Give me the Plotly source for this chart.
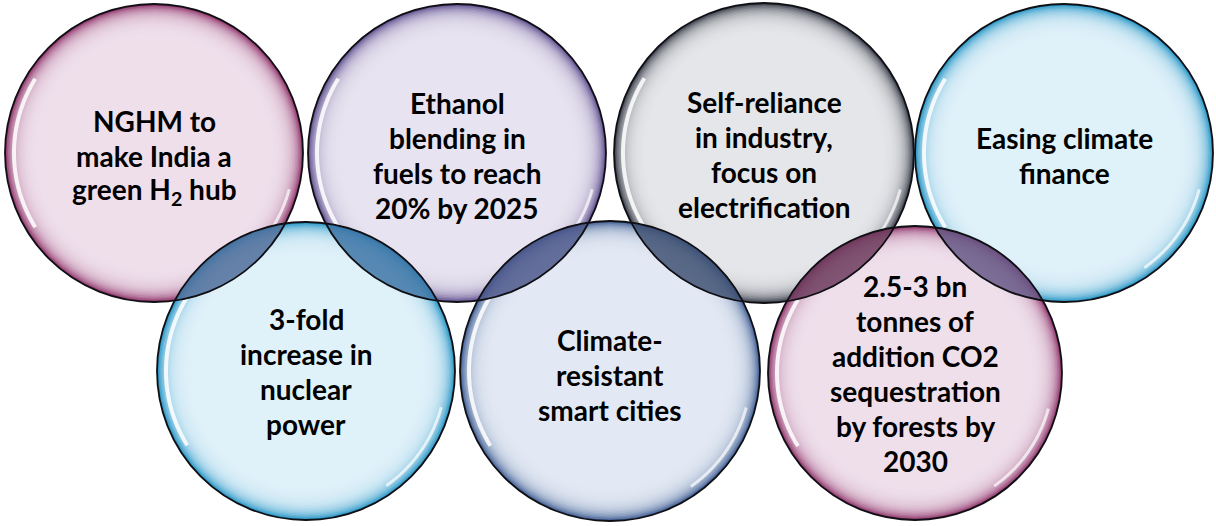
import numpy as np
import plotly.graph_objects as go

# ---- content ----
labels = [
    ["NGHM to", "make India a", "green H<sub>2</sub> hub"],
    ["Ethanol", "blending in", "fuels to reach", "20% by 2025"],
    ["Self-reliance", "in industry,", "focus on", "electrification"],
    ["Easing climate", "finance"],
    ["3-fold", "increase in", "nuclear", "power"],
    ["Climate-", "resistant", "smart cities"],
    ["2.5-3 bn", "tonnes of", "addition CO2", "sequestration", "by forests by", "2030"],
]
row = ["top", "top", "top", "top", "bottom", "bottom", "bottom"]
theme = ["pink", "purple", "gray", "cyan", "cyan", "steel", "pink"]

# ---- layout (pixel geometry of the bubbles) ----
cx = [154, 457, 764, 1064, 306, 610, 915]
cy = [153, 153, 153, 153, 371, 371, 373]
rad = [149, 149, 150, 149, 149, 150, 147]
text_cy = [156, 155, 154, 155, 371, 375, 373]
line_gap = 35
font_size = 28

rim_col = {
    "pink": (145, 55, 108),
    "purple": (98, 82, 145),
    "gray": (60, 64, 76),
    "cyan": (40, 150, 198),
    "steel": (66, 96, 148),
}
center_col = {
    "pink": (240, 226, 237),
    "purple": (233, 229, 241),
    "gray": (232, 233, 236),
    "cyan": (226, 242, 250),
    "steel": (229, 235, 245),
}

W, H = 1216, 526
fig = go.Figure()
shapes = []


def rgb(c, a=None):
    if a is None:
        return "rgb(%d,%d,%d)" % tuple(int(round(v)) for v in c)
    return "rgba(%d,%d,%d,%.3f)" % (*(int(round(v)) for v in c), a)


def mix(a, b, t):
    return tuple(a[i] * (1 - t) + b[i] * t for i in range(3))


def bubble(i):
    x, y, r = cx[i], cy[i], rad[i]
    rc, cc = rim_col[theme[i]], center_col[theme[i]]
    out = []
    depths = np.arange(0, 32, 1.5)
    for d in depths:
        t = 1 - np.exp(-d / 7.5)
        col = mix(rc, cc, t)
        rr = r - d
        out.append(dict(type="circle", xref="x", yref="y",
                        x0=x - rr, x1=x + rr, y0=y - rr, y1=y + rr,
                        fillcolor=rgb(col), line=dict(width=0), layer="above"))
    # glossy highlights
    for a0, a1, w, op in [(148, 212, 4, 0.85), (15, 55, 3, 0.7)]:
        th = np.radians(np.linspace(a0, a1, 60))
        rr = r - 9
        pts = ["%.2f,%.2f" % (x + rr * np.cos(t), y + rr * np.sin(t)) for t in th]
        out.append(dict(type="path", xref="x", yref="y",
                        path="M" + " L".join(pts),
                        line=dict(color="rgba(255,255,255,%.2f)" % op, width=w),
                        layer="above"))
    return out


def inside(px, py, j):
    return (px - cx[j]) ** 2 + (py - cy[j]) ** 2 < rad[j] ** 2


def lens(a, b):
    th = np.linspace(-np.pi, np.pi, 1441)
    pb = [(cx[b] + rad[b] * np.cos(t), cy[b] + rad[b] * np.sin(t)) for t in th]
    pb = [p for p in pb if inside(p[0], p[1], a)]
    pa = [(cx[a] + rad[a] * np.cos(t), cy[a] + rad[a] * np.sin(t)) for t in th]
    pa = [p for p in pa if inside(p[0], p[1], b)]
    if not pb or not pa:
        return []
    d0 = (pb[-1][0] - pa[0][0]) ** 2 + (pb[-1][1] - pa[0][1]) ** 2
    d1 = (pb[-1][0] - pa[-1][0]) ** 2 + (pb[-1][1] - pa[-1][1]) ** 2
    if d1 < d0:
        pa = pa[::-1]
    pts = pb + pa
    path = "M" + " L".join("%.2f,%.2f" % p for p in pts) + " Z"
    c = mix(rim_col[theme[a]], rim_col[theme[b]], 0.62)
    c = tuple(v * 0.92 for v in c)
    return [dict(type="path", xref="x", yref="y", path=path,
                 fillcolor=rgb(c, 0.82), line=dict(width=0), layer="above")]


order_top = [i for i in range(7) if row[i] == "top"]
order_bot = [i for i in range(7) if row[i] == "bottom"]
for i in order_top:
    shapes += bubble(i)
for i in order_bot:
    shapes += bubble(i)
for b in order_bot:
    for a in order_top:
        shapes += lens(a, b)
for i in range(7):
    shapes.append(dict(type="circle", xref="x", yref="y",
                       x0=cx[i] - rad[i], x1=cx[i] + rad[i],
                       y0=cy[i] - rad[i], y1=cy[i] + rad[i],
                       line=dict(color="rgb(15,15,20)", width=1.8),
                       fillcolor="rgba(0,0,0,0)", layer="above"))

annotations = []
for i in range(7):
    n = len(labels[i])
    for k, line in enumerate(labels[i]):
        y = text_cy[i] + (k - (n - 1) / 2) * line_gap
        annotations.append(dict(
            x=cx[i], y=y, xref="x", yref="y",
            text="<b>" + line + "</b>", showarrow=False,
            font=dict(family="Lato, 'Open Sans', sans-serif", size=font_size, color="black"),
            align="center", xanchor="center", yanchor="middle"))

fig.add_trace(go.Scatter(x=[0, W], y=[0, H], mode="markers",
                         marker=dict(opacity=0), hoverinfo="skip", showlegend=False))
fig.update_layout(
    width=W, height=H, margin=dict(l=0, r=0, t=0, b=0),
    paper_bgcolor="white", plot_bgcolor="white",
    xaxis=dict(range=[0, W], visible=False, fixedrange=True),
    yaxis=dict(range=[H, 0], visible=False, fixedrange=True),
    shapes=shapes, annotations=annotations, showlegend=False,
)
fig.write_html(
    "out.html",
    config={"displayModeBar": False},
    post_script="document.body.style.margin='0';document.body.style.overflow='hidden';",
)
